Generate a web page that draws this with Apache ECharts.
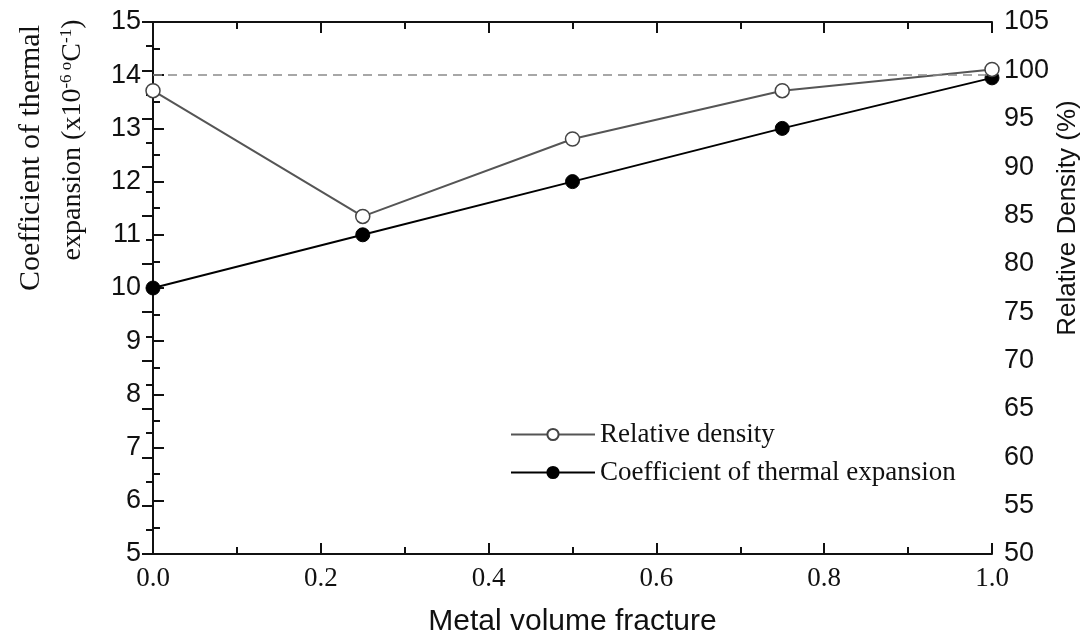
<!DOCTYPE html>
<html>
<head>
<meta charset="utf-8">
<script src="https://cdn.jsdelivr.net/npm/echarts@6/dist/echarts.min.js"></script>
<style>
  html, body { margin: 0; padding: 0; background: #fff; }
  #main { width: 1085px; height: 639px; }
</style>
</head>
<body>
<div id="main"></div>
<script>
var fractions = [0, 0.25, 0.5, 0.75, 1.0];
var cteValues = [10, 11, 12, 13, 13.95];
var densityValues = [97.9, 84.9, 92.9, 97.9, 100.1];
var fullDensityLine = 14;

var chartDom = document.getElementById('main');
var myChart = echarts.init(chartDom);
var option;

var sans = 'Liberation Sans, Arial, sans-serif';
var serif = 'Liberation Serif, Times New Roman, serif';

function pairs(xs, ys) {
  return xs.map(function (x, i) { return [x, ys[i]]; });
}

// shared tick look: inside ticks, half-step minor ticks
var tickStyle = { inside: true, length: 11, lineStyle: { color: '#111', width: 2 } };
var minorStyle = { show: true, splitNumber: 2, length: 7, lineStyle: { color: '#111', width: 2 } };

option = {
  animation: false,
  backgroundColor: '#fff',
  grid: { left: 153, right: 93, top: 22, bottom: 85, outerBoundsMode: 'none', containLabel: false },
  legend: {
    orient: 'vertical',
    left: 505,
    top: 416,
    itemWidth: 84,
    itemHeight: 14,
    itemGap: 11,
    textStyle: { fontFamily: serif, fontSize: 27, color: '#111' },
    data: ['Relative density', 'Coefficient of thermal expansion']
  },
  xAxis: [
    {
      type: 'value',
      min: 0, max: 1, interval: 0.2,
      name: 'Metal volume fracture',
      nameLocation: 'middle',
      nameGap: 53,
      nameTextStyle: { fontFamily: sans, fontSize: 30, color: '#111' },
      axisLine: { lineStyle: { color: '#111', width: 2 } },
      axisTick: tickStyle,
      minorTick: minorStyle,
      splitLine: { show: false },
      axisLabel: {
        fontFamily: serif, fontSize: 27, color: '#111', margin: 11,
        formatter: function (v) { return v.toFixed(1); }
      }
    },
    {
      type: 'value',
      position: 'top',
      min: 0, max: 1, interval: 0.2,
      axisLine: { lineStyle: { color: '#111', width: 2 } },
      axisTick: tickStyle,
      minorTick: minorStyle,
      splitLine: { show: false },
      axisLabel: { show: false }
    }
  ],
  yAxis: [
    {
      type: 'value',
      min: 5, max: 15, interval: 1,
      axisLine: { show: true, lineStyle: { color: '#111', width: 2 } },
      axisTick: tickStyle,
      minorTick: minorStyle,
      splitLine: { show: false },
      axisLabel: { fontFamily: sans, fontSize: 27, color: '#111', margin: 12 }
    },
    {
      type: 'value',
      min: 50, max: 105, interval: 5,
      position: 'right',
      axisLine: { show: true, lineStyle: { color: '#111', width: 2 } },
      axisTick: tickStyle,
      minorTick: minorStyle,
      splitLine: { show: false },
      axisLabel: { fontFamily: sans, fontSize: 27, color: '#111', margin: 12 }
    }
  ],
  graphic: [
    {
      type: 'text',
      x: 31, y: 158,
      rotation: Math.PI / 2,
      style: {
        text: 'Coefficient of thermal',
        fontFamily: serif, fontSize: 30, fill: '#111',
        align: 'center', verticalAlign: 'middle'
      }
    },
    {
      type: 'text',
      x: 73, y: 140,
      rotation: Math.PI / 2,
      style: {
        text: 'expansion (x10{sup|-6 o}C{sup|-1})',
        fontFamily: serif, fontSize: 28, fill: '#111',
        align: 'center', verticalAlign: 'middle',
        rich: {
          sup: { fontFamily: serif, fontSize: 17, fill: '#111', verticalAlign: 'top', lineHeight: 30 }
        }
      }
    },
    {
      type: 'text',
      x: 1068, y: 218,
      rotation: Math.PI / 2,
      style: {
        text: 'Relative Density (%)',
        fontFamily: sans, fontSize: 26, fill: '#111',
        align: 'center', verticalAlign: 'middle'
      }
    }
  ],
  series: [
    {
      name: 'Coefficient of thermal expansion',
      type: 'line',
      xAxisIndex: 0,
      yAxisIndex: 0,
      z: 3,
      symbol: 'circle',
      symbolSize: 14,
      lineStyle: { color: '#000', width: 2 },
      itemStyle: { color: '#000', borderColor: '#000', borderWidth: 1 },
      data: pairs(fractions, cteValues),
      markLine: {
        silent: true,
        symbol: 'none',
        label: { show: false },
        lineStyle: { color: '#8a8a8a', type: [9, 6], width: 1.5 },
        data: [{ yAxis: fullDensityLine }]
      }
    },
    {
      name: 'Relative density',
      type: 'line',
      xAxisIndex: 0,
      yAxisIndex: 1,
      z: 4,
      symbol: 'circle',
      symbolSize: 14,
      lineStyle: { color: '#555', width: 2 },
      itemStyle: { color: '#fff', borderColor: '#444', borderWidth: 1.5 },
      data: pairs(fractions, densityValues)
    }
  ]
};

option && myChart.setOption(option);
</script>
</body>
</html>
